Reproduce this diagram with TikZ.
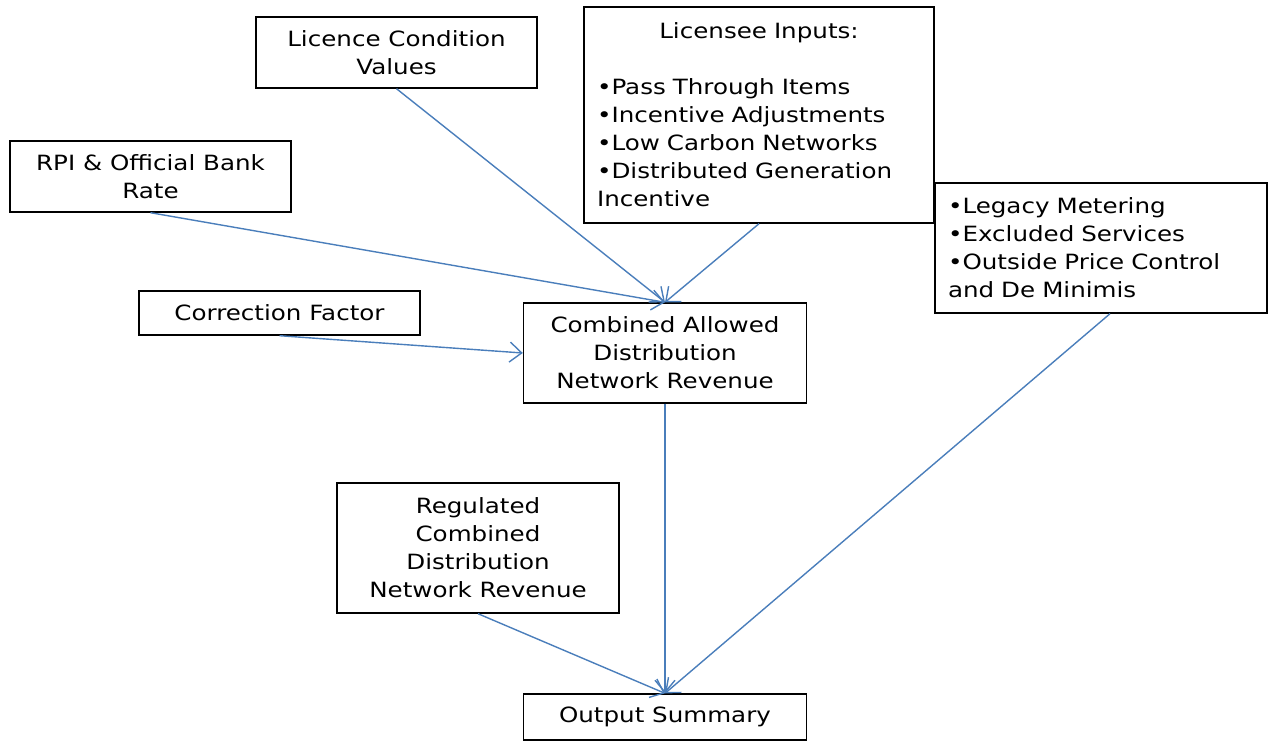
\documentclass[tikz,border=0pt]{standalone}
\usepackage{fontspec}
\setmainfont{DejaVu Sans}[FakeStretch=1.17]
\usetikzlibrary{arrows.meta}
\definecolor{flowblue}{HTML}{4A7EBB}

\begin{document}
\begin{tikzpicture}[x=1pt,y=-1pt,
	box/.style={draw=black, line width=1.4pt, inner sep=13pt, align=center,
		font=\fontsize{21}{28}\selectfont},
	flow/.style={draw=flowblue, line width=1.4pt,
		-{Straight Barb[length=12pt,width=20pt]}}]
	\useasboundingbox (0,0) rectangle (1269,740);

	% Inputs
	\node[box, minimum width=281pt, minimum height=71pt] (licence) at (396.5,52.5) {Licence Condition\\Values};
	\node[box, minimum width=281pt, minimum height=71pt] (rpi) at (150.5,176.5) {RPI \& Official Bank\\Rate};
	\node[box, minimum width=281pt, minimum height=44pt] (correction) at (279.5,313) {Correction Factor};
	\node[box, minimum height=216pt, text width=324pt, align=left] (licensee) at (759,115)
		{\makebox[324pt]{Licensee Inputs:}\\[28pt]
		 •Pass Through Items\\
		 •Incentive Adjustments\\
		 •Low Carbon Networks\\
		 •Distributed Generation\\
		 Incentive};
	\node[box, minimum height=130pt, text width=306pt, align=left] (legacy) at (1101,248)
		{•Legacy Metering\\
		 •Excluded Services\\
		 •Outside Price Control\\
		 and De Minimis};

	% Revenue and output
	\node[box, minimum width=283pt, minimum height=100pt] (combined) at (665,353) {Combined Allowed\\Distribution\\Network Revenue};
	\node[box, minimum width=282pt, minimum height=130pt] (regulated) at (478,548) {Regulated\\Combined\\Distribution\\Network Revenue};
	\node[box, minimum width=283pt, minimum height=41pt] (output) at (665,717) {Output Summary};

	% Connectors
	\draw[flow] (licence.south) -- (combined.north);
	\draw[flow] (rpi.south) -- (combined.north);
	\draw[flow] (licensee.south) -- (combined.north);
	\draw[flow] (correction.south) -- (combined.west);
	\draw[flow] (combined.south) -- (output.north);
	\draw[flow] (regulated.south) -- (output.north);
	\draw[flow] ([xshift=9pt]legacy.south) -- (output.north);
\end{tikzpicture}
\end{document}
